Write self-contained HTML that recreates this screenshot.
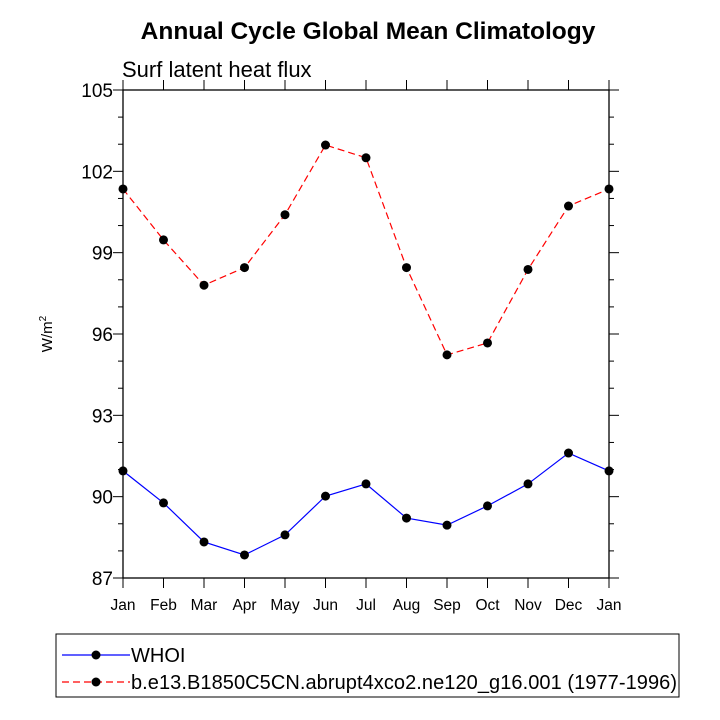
<!DOCTYPE html>
<html><head><meta charset="utf-8"><style>body{margin:0;background:#fff}svg{display:block}</style></head>
<body>
<svg id="c" width="720" height="720" xmlns="http://www.w3.org/2000/svg" font-family="Liberation Sans, sans-serif">
<text x="368" y="39" font-size="24.5" font-weight="bold" text-anchor="middle">Annual Cycle Global Mean Climatology</text>
<text x="122" y="77" font-size="22">Surf latent heat flux</text>
<text transform="translate(52,334) rotate(-90)" font-size="15" text-anchor="middle">W/m<tspan font-size="10" dy="-6">2</tspan></text>
<rect x="123" y="90" width="486" height="488" fill="none" stroke="#000" stroke-width="1.3"/>
<g id="ax"></g><g id="series"></g>
<rect x="56" y="634" width="623" height="63" fill="none" stroke="#000" stroke-width="1"/>
<g>
<line x1="62" y1="655" x2="130" y2="655" stroke="#00f" stroke-width="1.2"/><circle cx="96" cy="655" r="4.5"/>
<text x="131" y="662" font-size="20">WHOI</text></g>
<g>
<line x1="62" y1="682" x2="130" y2="682" stroke="#f00" stroke-width="1.2" stroke-dasharray="7,4"/><circle cx="96" cy="682" r="4.5"/>
<text x="131" y="689" font-size="20" textLength="546">b.e13.B1850C5CN.abrupt4xco2.ne120_g16.001 (1977-1996)</text></g>
</svg>
<script>
const months=["Jan","Feb","Mar","Apr","May","Jun","Jul","Aug","Sep","Oct","Nov","Dec","Jan"];
const yTicks=[87,90,93,96,99,102,105];
const whoi=[90.95,89.77,88.33,87.85,88.59,90.02,90.47,89.21,88.95,89.66,90.47,91.61,90.95];
const model=[101.35,99.47,97.8,98.45,100.4,102.97,102.5,98.45,95.23,95.67,98.38,100.72,101.35];
const X0=123,X1=609,Y0=578,Y1=90,ymin=87,ymax=105;
const sx=i=>X0+(X1-X0)*i/(months.length-1);
const sy=v=>Y0-(v-ymin)/(ymax-ymin)*(Y0-Y1);
const NS="http://www.w3.org/2000/svg";
function mk(t,a,p){const e=document.createElementNS(NS,t);for(const k in a)e.setAttribute(k,a[k]);p.appendChild(e);return e;}
const ax=document.getElementById('ax');
months.forEach((m,i)=>{const x=sx(i);
 mk('line',{x1:x,y1:Y0,x2:x,y2:Y0+10,stroke:'#000'},ax);
 mk('line',{x1:x,y1:Y1,x2:x,y2:Y1-10,stroke:'#000'},ax);
 const t=mk('text',{x:x,y:Y0+32,'font-size':15.5,'text-anchor':'middle'},ax);t.textContent=m;
 
 
});
for(let v=ymin;v<=ymax;v++){const y=sy(v),maj=(v-ymin)%3===0,l=maj?10:5;
 mk('line',{x1:X0,y1:y,x2:X0-l,y2:y,stroke:'#000'},ax);
 mk('line',{x1:X1,y1:y,x2:X1+l,y2:y,stroke:'#000'},ax);}
yTicks.forEach(v=>{const t=mk('text',{x:X0-10,y:sy(v)+7,'font-size':19,'text-anchor':'end'},ax);t.textContent=v;
 
 
});
const sg=document.getElementById('series');
function draw(d,col,dash,name){const g=mk('g',{},sg);
 
 
 const a={points:d.map((v,i)=>sx(i)+','+sy(v)).join(' '),fill:'none',stroke:col,'stroke-width':1.2};
 if(dash)a['stroke-dasharray']=dash;mk('polyline',a,g);
 d.forEach((v,i)=>{const c=mk('circle',{cx:sx(i),cy:sy(v),r:4.5},g);
  
  });}
draw(model,'#f00','7,4','series-model');
draw(whoi,'#00f',null,'series-whoi');
</script>
</body></html>
